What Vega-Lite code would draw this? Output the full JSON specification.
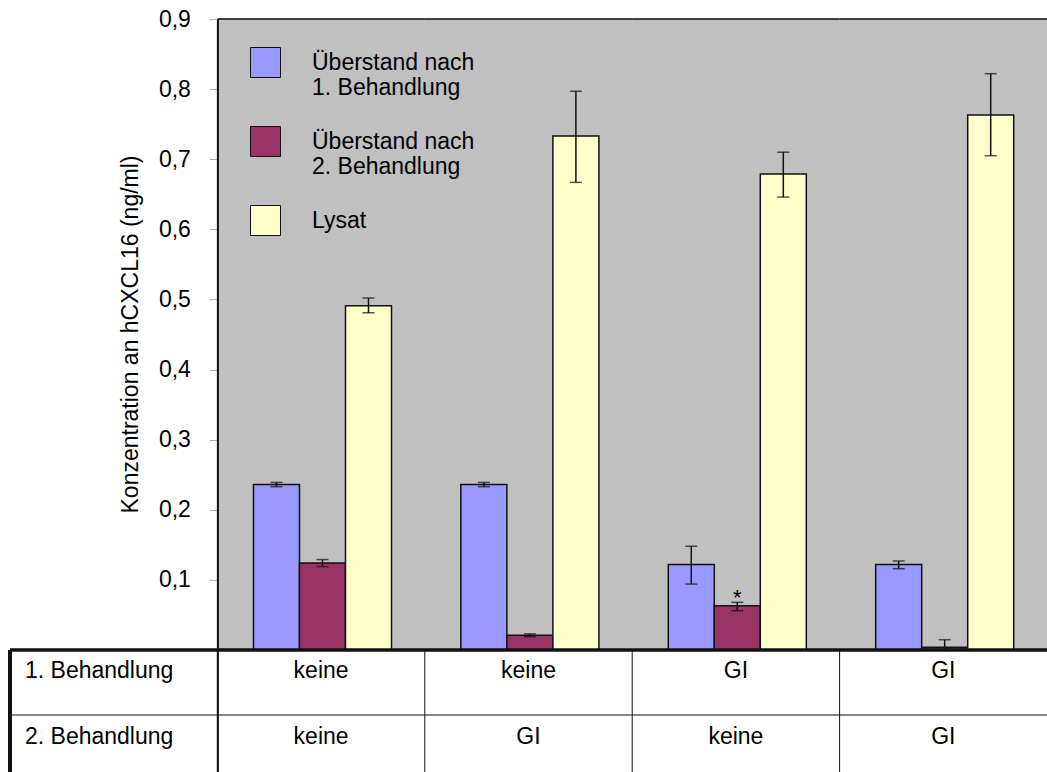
{
  "$schema": "https://vega.github.io/schema/vega-lite/v6.json",
  "width": 1037,
  "height": 753,
  "autosize": {"type": "none"},
  "padding": {"left": 10, "top": 19, "right": 0, "bottom": 0},
  "background": "white",
  "config": {
    "view": {"stroke": null},
    "font": "Liberation Sans",
    "text": {"font": "Liberation Sans", "fontSize": 23, "color": "black"}
  },
  "datasets": {
    "bars": [
      {"gruppe": "G1", "serie": "Überstand nach 1. Behandlung", "wert": 0.236, "lo": 0.233, "hi": 0.239, "sig": ""},
      {"gruppe": "G1", "serie": "Überstand nach 2. Behandlung", "wert": 0.124, "lo": 0.119, "hi": 0.129, "sig": ""},
      {"gruppe": "G1", "serie": "Lysat", "wert": 0.491, "lo": 0.481, "hi": 0.502, "sig": ""},
      {"gruppe": "G2", "serie": "Überstand nach 1. Behandlung", "wert": 0.236, "lo": 0.233, "hi": 0.239, "sig": ""},
      {"gruppe": "G2", "serie": "Überstand nach 2. Behandlung", "wert": 0.021, "lo": 0.019, "hi": 0.023, "sig": ""},
      {"gruppe": "G2", "serie": "Lysat", "wert": 0.733, "lo": 0.667, "hi": 0.797, "sig": ""},
      {"gruppe": "G3", "serie": "Überstand nach 1. Behandlung", "wert": 0.122, "lo": 0.094, "hi": 0.148, "sig": ""},
      {"gruppe": "G3", "serie": "Überstand nach 2. Behandlung", "wert": 0.063, "lo": 0.056, "hi": 0.068, "sig": "*"},
      {"gruppe": "G3", "serie": "Lysat", "wert": 0.679, "lo": 0.646, "hi": 0.710, "sig": ""},
      {"gruppe": "G4", "serie": "Überstand nach 1. Behandlung", "wert": 0.122, "lo": 0.116, "hi": 0.127, "sig": ""},
      {"gruppe": "G4", "serie": "Überstand nach 2. Behandlung", "wert": 0.004, "lo": 0.0, "hi": 0.0147, "sig": ""},
      {"gruppe": "G4", "serie": "Lysat", "wert": 0.763, "lo": 0.705, "hi": 0.822, "sig": ""}
    ],
    "groups": [
      {"gruppe": "G1", "b1": "keine", "b2": "keine"},
      {"gruppe": "G2", "b1": "keine", "b2": "GI"},
      {"gruppe": "G3", "b1": "GI", "b2": "keine"},
      {"gruppe": "G4", "b1": "GI", "b2": "GI"}
    ],
    "header": [
      {"gruppe": "H", "b1": "1. Behandlung", "b2": "2. Behandlung"}
    ]
  },
  "layer": [
    {
      "data": {"name": "groups"},
      "mark": {"type": "bar", "color": "#c0c0c0", "stroke": "#c0c0c0", "strokeWidth": 1},
      "encoding": {
        "x": {"field": "gruppe", "type": "nominal", "axis": null,
              "scale": {"domain": ["H", "G1", "G2", "G3", "G4"], "paddingInner": 0, "paddingOuter": 0}},
        "y": {"datum": 0.9, "type": "quantitative",
              "scale": {"domain": [-0.174, 0.9], "nice": false, "zero": false},
              "axis": {
                "values": [0.1, 0.2, 0.3, 0.4, 0.5, 0.6, 0.7, 0.8, 0.9],
                "labelExpr": "replace(format(datum.value, '.1f'), '.', ',')",
                "offset": -207.4,
                "zindex": 1,
                "grid": false,
                "domainColor": "#111111",
                "domainWidth": 2,
                "tickColor": "#b0b0b0",
                "tickSize": 8,
                "tickWidth": 1,
                "labelPadding": 19,
                "labelFont": "Liberation Sans",
                "labelFontSize": 23,
                "labelColor": "black",
                "title": "Konzentration an hCXCL16 (ng/ml)",
                "titleFont": "Liberation Sans",
                "titleFontSize": 23,
                "titleFontWeight": "normal",
                "titleColor": "black",
                "titleAngle": -90,
                "titleAlign": "center",
                "titleBaseline": "middle",
                "titleX": -87,
                "titleY": 315
              }},
        "y2": {"datum": 0}
      }
    },
    {
      "data": {"name": "groups"},
      "mark": {"type": "bar", "fill": null, "stroke": "#111111", "strokeWidth": 1.5},
      "encoding": {
        "x": {"field": "gruppe", "type": "nominal"},
        "y": {"datum": 0.9, "type": "quantitative"},
        "y2": {"datum": 0.9}
      }
    },
    {
      "data": {"name": "bars"},
      "mark": {"type": "bar", "stroke": "#111111", "strokeWidth": 1.5},
      "encoding": {
        "x": {"field": "gruppe", "type": "nominal"},
        "xOffset": {"field": "serie", "type": "nominal",
                    "scale": {"domain": ["Überstand nach 1. Behandlung", "Überstand nach 2. Behandlung", "Lysat"],
                              "paddingInner": 0, "paddingOuter": 0.754, "align": 0.52}},
        "y": {"field": "wert", "type": "quantitative"},
        "fill": {"field": "serie", "type": "nominal",
                 "scale": {"domain": ["Überstand nach 1. Behandlung", "Überstand nach 2. Behandlung", "Lysat"],
                           "range": ["#9999ff", "#993366", "#ffffcc"]},
                 "legend": {
                   "orient": "none",
                   "legendX": 240,
                   "legendY": 28,
                   "title": null,
                   "padding": 0,
                   "symbolType": "square",
                   "symbolSize": 900,
                   "symbolStrokeWidth": 1,
                   "labelFont": "Liberation Sans",
                   "labelFontSize": 23,
                   "labelColor": "black",
                   "labelOffset": 31,
                   "labelLimit": 400,
                   "rowPadding": 24,
                   "labelExpr": "datum.label === 'Lysat' ? 'Lysat' : ['Überstand nach', replace(datum.label, 'Überstand nach ', '')]"
                 }}
      }
    },
    {
      "data": {"name": "bars"},
      "mark": {"type": "rule", "color": "#111111", "strokeWidth": 1.5},
      "encoding": {
        "x": {"field": "gruppe", "type": "nominal"},
        "xOffset": {"field": "serie", "type": "nominal"},
        "y": {"field": "lo", "type": "quantitative"},
        "y2": {"field": "hi"}
      }
    },
    {
      "data": {"name": "bars"},
      "mark": {"type": "tick", "orient": "horizontal", "color": "#111111", "size": 12, "thickness": 1.5},
      "encoding": {
        "x": {"field": "gruppe", "type": "nominal"},
        "xOffset": {"field": "serie", "type": "nominal"},
        "y": {"field": "hi", "type": "quantitative"}
      }
    },
    {
      "data": {"name": "bars"},
      "mark": {"type": "tick", "orient": "horizontal", "color": "#111111", "size": 12, "thickness": 1.5},
      "encoding": {
        "x": {"field": "gruppe", "type": "nominal"},
        "xOffset": {"field": "serie", "type": "nominal"},
        "y": {"field": "lo", "type": "quantitative"}
      }
    },
    {
      "data": {"name": "bars"},
      "mark": {"type": "text", "baseline": "alphabetic", "dy": 3, "fontSize": 22, "color": "black"},
      "encoding": {
        "x": {"field": "gruppe", "type": "nominal"},
        "xOffset": {"field": "serie", "type": "nominal"},
        "y": {"field": "hi", "type": "quantitative"},
        "text": {"field": "sig"}
      }
    },
    {
      "data": {"name": "groups"},
      "mark": {"type": "rule", "color": "#111111", "strokeWidth": 1},
      "encoding": {
        "x": {"field": "gruppe", "type": "nominal", "bandPosition": 0},
        "y": {"datum": 0, "type": "quantitative"},
        "y2": {"datum": -0.174}
      }
    },
    {
      "data": {"name": "header"},
      "mark": {"type": "rule", "color": "#111111", "strokeWidth": 4},
      "encoding": {
        "x": {"field": "gruppe", "type": "nominal", "bandPosition": 0},
        "y": {"datum": 0, "type": "quantitative"},
        "y2": {"datum": -0.174}
      }
    },
    {
      "data": {"name": "header"},
      "mark": {"type": "rule", "color": "#111111", "strokeWidth": 3.5},
      "encoding": {"y": {"datum": 0, "type": "quantitative"}}
    },
    {
      "data": {"name": "header"},
      "mark": {"type": "rule", "color": "#111111", "strokeWidth": 1},
      "encoding": {"y": {"datum": -0.0927, "type": "quantitative"}}
    },
    {
      "data": {"name": "header"},
      "mark": {"type": "text", "align": "left", "baseline": "middle", "dx": 15},
      "encoding": {
        "x": {"field": "gruppe", "type": "nominal", "bandPosition": 0},
        "y": {"datum": -0.030, "type": "quantitative"},
        "text": {"field": "b1"}
      }
    },
    {
      "data": {"name": "header"},
      "mark": {"type": "text", "align": "left", "baseline": "middle", "dx": 15},
      "encoding": {
        "x": {"field": "gruppe", "type": "nominal", "bandPosition": 0},
        "y": {"datum": -0.124, "type": "quantitative"},
        "text": {"field": "b2"}
      }
    },
    {
      "data": {"name": "groups"},
      "mark": {"type": "text", "align": "center", "baseline": "middle"},
      "encoding": {
        "x": {"field": "gruppe", "type": "nominal"},
        "y": {"datum": -0.030, "type": "quantitative"},
        "text": {"field": "b1"}
      }
    },
    {
      "data": {"name": "groups"},
      "mark": {"type": "text", "align": "center", "baseline": "middle"},
      "encoding": {
        "x": {"field": "gruppe", "type": "nominal"},
        "y": {"datum": -0.124, "type": "quantitative"},
        "text": {"field": "b2"}
      }
    }
  ]
}
